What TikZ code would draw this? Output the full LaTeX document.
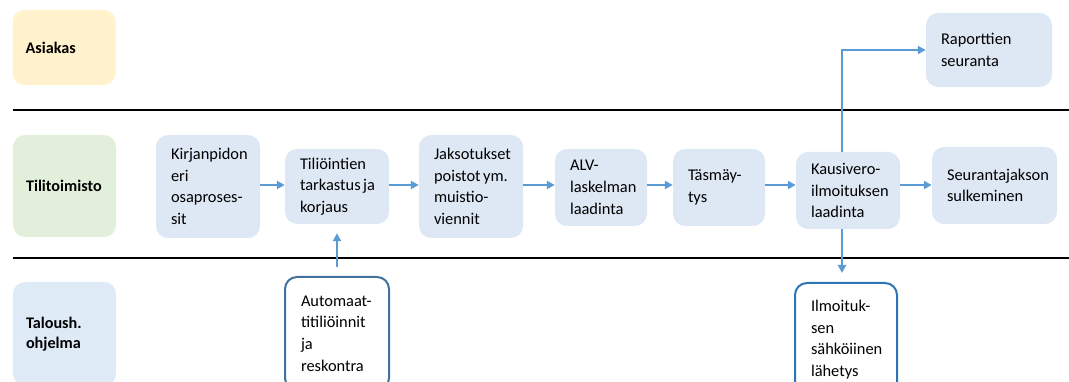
\documentclass[tikz,border=0pt]{standalone}
\usepackage{fontspec}
\setmainfont{Carlito}
\usetikzlibrary{arrows.meta}
\definecolor{procfill}{HTML}{DEE8F4}
\definecolor{custfill}{HTML}{FFF2CC}
\definecolor{officefill}{HTML}{E2EFDA}
\definecolor{softfill}{HTML}{DEEBF7}
\definecolor{flowblue}{HTML}{5B9BD5}
\definecolor{edgeA}{HTML}{41719C}
\definecolor{edgeB}{HTML}{2E75B6}
\newcommand\tightsp{\nobreak\hspace{2.5pt}\nobreak}
\tikzset{
  procbox/.style={rounded corners=12pt, fill=procfill, align=left,
    inner xsep=15pt, inner ysep=0pt, anchor=center,
    font=\fontsize{16.4}{21.7}\selectfont},
  lanebox/.style={rounded corners=12pt, align=left, inner xsep=13pt,
    inner ysep=0pt, anchor=center, text width=77pt, minimum height=75pt,
    font=\fontsize{16.2}{20}\selectfont\bfseries},
  flow/.style={draw=flowblue, line width=2pt,
    -{Triangle[length=8pt,width=8pt]}},
  lanerule/.style={draw=black, line width=2pt}
}
\begin{document}
\begin{tikzpicture}[x=1pt,y=-1pt]
\useasboundingbox (0,0) rectangle (1069,382);
\clip (0,0) rectangle (1069,382);

% lane separators
\draw[lanerule] (13,110) -- (1069,110);
\draw[lanerule] (13,258) -- (1069,258);

% lane labels
\node[lanebox, fill=custfill, minimum height=75pt] (lcust) at (64,47.5) {Asiakas};
\node[lanebox, fill=officefill, minimum height=102pt] (loffice) at (64.5,186) {Tilitoimisto};
\node[lanebox, fill=softfill, minimum height=104pt] (lsoft) at (64.5,334) {Taloush.\\ohjelma};

% process steps in the accounting office lane
\node[procbox, text width=74pt, minimum height=103pt] (kirjan) at (208,186.5)
  {Kirjanpidon\\eri\\osaproses-\\sit};
\node[procbox, text width=74pt, minimum height=75pt] (tilioint) at (337,186.5)
  {Tiliöintien\\\mbox{tarkastus\tightsp ja}\\korjaus};
\node[procbox, text width=74pt, minimum height=103pt] (jakso) at (471,186.5)
  {Jaksotukset\\\mbox{poistot\tightsp ym.}\\muistio-\\viennit};
\node[procbox, text width=62pt, minimum height=77pt] (alv) at (601,187.5)
  {ALV-\\laskelman\\laadinta};
\node[procbox, text width=62pt, minimum height=77pt] (tasm) at (719,187.5)
  {Täsmäy-\\tys};
\node[procbox, text width=74pt, minimum height=77pt] (kausi) at (848,190.5)
  {Kausivero-\\ilmoituksen\\laadinta};
\node[procbox, text width=95pt, minimum height=77pt] (seur) at (994.5,185.5)
  {Seurantajakson\\sulkeminen};

% customer lane
\node[procbox, text width=96pt, minimum height=74pt] (rap) at (989,50)
  {Raporttien\\seuranta};

% software lane
\node[procbox, fill=white, draw=edgeA, line width=2pt, inner xsep=16pt,
  text width=72pt, minimum height=113pt] (auto) at (337,333.5)
  {Automaat-\\titiliöinnit\\ja\\reskontra};
\node[procbox, fill=white, draw=edgeB, line width=2pt, inner xsep=16pt,
  text width=70pt, minimum height=113pt] (ilmo) at (846,339.5)
  {Ilmoituk-\\sen\\sähköiinen\\lähetys};

% main flow
\coordinate (row) at (0,185);
\draw[flow] (kirjan.east |- row) -- (tilioint.west |- row);
\draw[flow] (tilioint.east |- row) -- (jakso.west |- row);
\draw[flow] (jakso.east |- row) -- (alv.west |- row);
\draw[flow] (alv.east |- row) -- (tasm.west |- row);
\draw[flow] (tasm.east |- row) -- (kausi.west |- row);
\draw[flow] (kausi.east |- row) -- (seur.west |- row);

% branches off the VAT return step
\coordinate (branch) at (842,0);
\draw[flow] (kausi.north -| branch) |- (rap.west);
\draw[flow, shorten >=9pt] (kausi.south -| branch) -- (ilmo.north -| branch);

% automated postings feed the checking step
\draw[flow, shorten <=9pt, shorten >=9pt] (auto.north) -- (tilioint.south);
\end{tikzpicture}
\end{document}
